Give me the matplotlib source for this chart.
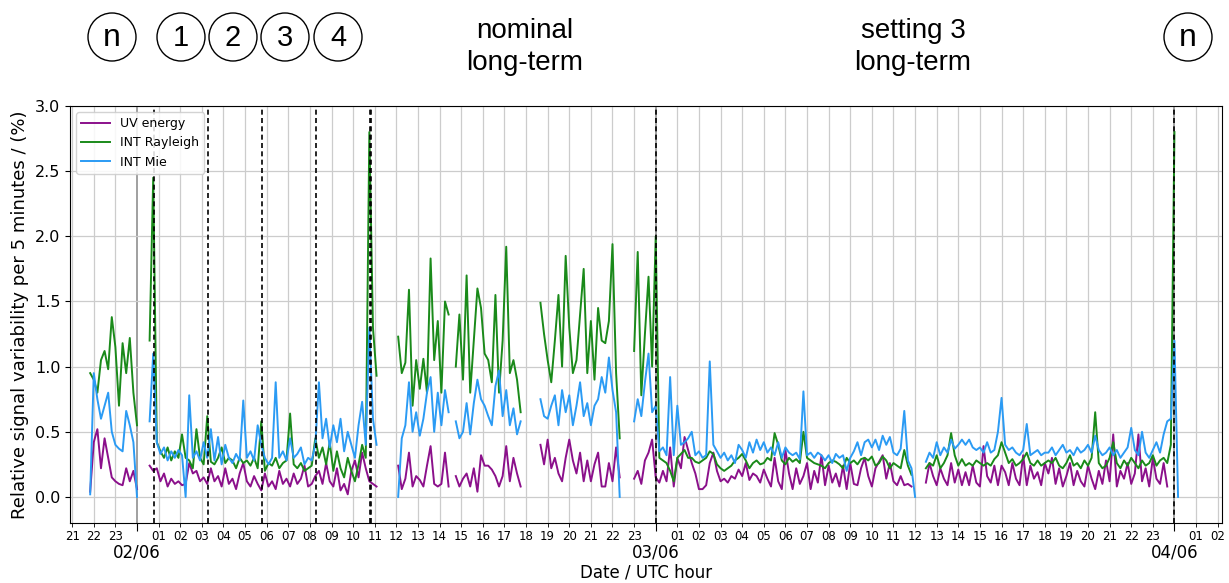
import numpy as np
import matplotlib
matplotlib.use("Agg")
import matplotlib.pyplot as plt
from matplotlib.patches import Ellipse

nan = np.nan
STEP = 1.0 / 6.0  # 10-minute samples, in hours

# start of each data segment, hours since 01/06 00:00 UTC
seg_start = [21 + 50 / 60, 24 + 35 / 60, 36 + 5 / 60, 42 + 40 / 60, 47.0, 60.5]

# ---------------- UV energy (purple) ----------------
uv_A = [0.04, 0.42, 0.52, 0.22, 0.45, 0.30, 0.15, 0.12, 0.10, 0.09, 0.22, 0.12, 0.20, 0.06]
uv_B = [0.24, 0.20, 0.22, 0.12, 0.18, 0.08, 0.14, 0.10, 0.12, 0.09,
        0.10, 0.26, 0.18, 0.20, 0.12, 0.15, 0.10, 0.22, 0.12, 0.16,
        0.08, 0.22, 0.10, 0.14, 0.06, 0.18, 0.26, 0.12, 0.08, 0.16,
        0.10, 0.05, 0.18, 0.08, 0.12, 0.06, 0.20, 0.10, 0.14, 0.08,
        0.18, 0.10, 0.14, 0.24, 0.08, 0.10, 0.16, 0.20, 0.10, 0.26,
        0.12, 0.08, 0.22, 0.05, 0.10, 0.02, 0.20, 0.28, 0.15, 0.34,
        0.22, 0.12, 0.10, 0.08]
uv_C = [0.24, 0.06, 0.14, 0.34, 0.08, 0.16, 0.13, 0.08, 0.24, 0.39,
        0.10, 0.08, 0.10, 0.34, 0.08, nan, 0.16, 0.08, 0.14, 0.18,
        0.08, 0.22, 0.04, 0.32, 0.24, 0.24, 0.21, 0.16, 0.08, 0.16,
        0.39, 0.12, 0.30, 0.18, 0.08]
uv_D = [0.40, 0.25, 0.44, 0.22, 0.30, 0.18, 0.12, 0.30, 0.44, 0.28,
        0.18, 0.34, 0.12, 0.28, 0.12, 0.25, 0.34, 0.08, 0.08, 0.26,
        0.12, 0.38, 0.15]
uv_E = [0.14, 0.20, 0.10, 0.28, 0.34, 0.44, 0.15,
        0.11, 0.20, 0.12, 0.38, 0.08, 0.30, 0.22, 0.46, 0.36, 0.26,
        0.18, 0.06, 0.06, 0.09, 0.26, 0.34, 0.20, 0.12, 0.14, 0.11,
        0.16, 0.14, 0.21, 0.16, 0.26, 0.13, 0.18, 0.16, 0.11, 0.21,
        0.14, 0.08, 0.30, 0.12, 0.06, 0.36, 0.18, 0.06, 0.22, 0.10,
        0.16, 0.26, 0.06, 0.20, 0.11, 0.32, 0.09, 0.24, 0.11, 0.18,
        0.08, 0.24, 0.06,
        0.26, 0.10, 0.09, 0.22, 0.30, 0.16, 0.08, 0.22, 0.27, 0.32,
        0.14, 0.26, 0.12, 0.09, 0.16, 0.09, 0.10, 0.08, nan]
uv_G = [0.11, 0.26, 0.16, 0.09, 0.22, 0.14, 0.09, 0.26, 0.11, 0.21,
        0.09, 0.19, 0.09, 0.24, 0.11, 0.08, 0.39, 0.16, 0.11, 0.24,
        0.09, 0.24, 0.19, 0.09, 0.26, 0.14, 0.09, 0.32, 0.09, 0.24,
        0.14, 0.19, 0.09, 0.26,
        0.18, 0.30, 0.10, 0.22, 0.08, 0.16, 0.26, 0.09, 0.20, 0.12,
        0.08, 0.24, 0.14, 0.06, 0.20, 0.10, 0.28, 0.12, 0.48, 0.08,
        0.20, 0.14, 0.26, 0.10, 0.18, 0.48, 0.12, 0.22, 0.08, 0.30,
        0.14, 0.10, 0.26, 0.08, nan, nan, nan]

# ---------------- INT Rayleigh (green) ----------------
ray_A = [0.95, 0.90, 0.80, 1.05, 1.12, 0.98, 1.38, 1.15, 0.70, 1.18, 0.95, 1.22, 0.80, 0.55]
ray_B = [1.20, 2.45, 0.42, 0.35, 0.30, 0.38, 0.28, 0.35, 0.30, 0.48,
         0.30, 0.28, 0.22, 0.52, 0.30, 0.25, 0.62, 0.27, 0.25, 0.30,
         0.38, 0.26, 0.30, 0.28, 0.22, 0.30, 0.26, 0.28, 0.24, 0.30,
         0.22, 0.58, 0.20, 0.26, 0.24, 0.30, 0.22, 0.26, 0.28, 0.64,
         0.25, 0.22, 0.26, 0.20, 0.22, 0.24, 0.45, 0.30, 0.38, 0.25,
         0.42, 0.20, 0.35, 0.22, 0.15, 0.30, 0.20, 0.12, 0.25, 0.40,
         0.30, 2.80, 1.30, 0.93]
ray_C = [1.23, 0.95, 1.03, 1.59, 0.70, 1.05, 0.83, 1.06, 0.80, 1.83,
         1.05, 1.35, 0.80, 1.50, 1.40, nan, 1.00, 1.40, 0.90, 1.70,
         0.80, 1.20, 1.60, 1.45, 1.10, 1.05, 0.88, 1.55, 0.80, 1.20,
         1.92, 0.95, 1.05, 0.90, 0.65]
ray_D = [1.49, 1.25, 1.05, 0.88, 1.20, 1.55, 1.00, 1.85, 1.30, 0.95,
         1.05, 1.40, 1.75, 0.95, 1.35, 0.90, 1.45, 1.20, 1.18, 1.35,
         1.94, 0.95, 0.45]
ray_E = [1.12, 1.88, 0.78, 1.25, 1.69, 1.00, 2.00,
         0.30, 0.28, 0.26, 0.20, 0.12, 0.30, 0.33, 0.36, 0.30, 0.30,
         0.27, 0.26, 0.28, 0.30, 0.35, 0.33, 0.25, 0.22, 0.20, 0.22,
         0.24, 0.28, 0.30, 0.33, 0.28, 0.22, 0.26, 0.28, 0.25, 0.26,
         0.30, 0.28, 0.49, 0.40, 0.28, 0.25, 0.30, 0.27, 0.29, 0.26,
         0.50, 0.30, 0.28, 0.26, 0.25, 0.24, 0.22, 0.26, 0.28, 0.27,
         0.25, 0.22, 0.30,
         0.26, 0.28, 0.25, 0.29, 0.30, 0.28, 0.31, 0.24, 0.26, 0.31,
         0.28, 0.22, 0.26, 0.24, 0.22, 0.36, 0.24, 0.17, nan]
ray_G = [0.22, 0.26, 0.24, 0.32, 0.22, 0.26, 0.32, 0.49, 0.32, 0.24,
         0.29, 0.24, 0.26, 0.24, 0.28, 0.26, 0.24, 0.26, 0.24, 0.29,
         0.32, 0.42, 0.34, 0.26, 0.29, 0.24, 0.26, 0.29, 0.34, 0.26,
         0.24, 0.28, 0.24, 0.26,
         0.28, 0.26, 0.30, 0.24, 0.22, 0.26, 0.32, 0.24, 0.26, 0.22,
         0.28, 0.24, 0.30, 0.65, 0.26, 0.22, 0.24, 0.30, 0.42, 0.26,
         0.22, 0.28, 0.24, 0.30, 0.26, 0.22, 0.28, 0.24, 0.26, 0.32,
         0.24, 0.28, 0.30, 0.26, 0.40, 2.80, nan]

# ---------------- INT Mie (blue) ----------------
mie_A = [0.02, 0.95, 0.75, 0.60, 0.70, 0.80, 0.50, 0.40, 0.37, 0.35, 0.66, 0.55, 0.42, 0.0]
mie_B = [0.58, 1.10, 0.42, 0.33, 0.38, 0.28, 0.35, 0.30, 0.36, 0.32,
         0.00, 0.78, 0.30, 0.35, 0.28, 0.42, 0.30, 0.52, 0.28, 0.46,
         0.25, 0.40, 0.30, 0.26, 0.33, 0.28, 0.74, 0.30, 0.35, 0.28,
         0.55, 0.40, 0.30, 0.25, 0.30, 0.88, 0.30, 0.35, 0.28, 0.45,
         0.30, 0.33, 0.38, 0.25, 0.30, 0.28, 0.40, 0.88, 0.45, 0.60,
         0.38, 0.55, 0.42, 0.60, 0.35, 0.50, 0.40, 0.30, 0.55, 0.73,
         0.40, 1.30, 0.60, 0.40]
mie_C = [0.00, 0.45, 0.55, 0.88, 0.50, 0.65, 0.47, 0.60, 0.80, 0.92,
         0.50, 0.80, 0.55, 0.82, 0.65, nan, 0.58, 0.45, 0.50, 0.72,
         0.48, 0.72, 0.90, 0.75, 0.70, 0.62, 0.55, 0.85, 0.97, 0.62,
         0.82, 0.55, 0.68, 0.48, 0.58]
mie_D = [0.75, 0.62, 0.60, 0.70, 0.78, 0.55, 0.82, 0.65, 0.78, 0.55,
         0.70, 0.88, 0.62, 0.72, 0.55, 0.70, 0.75, 0.92, 0.80, 1.07,
         0.82, 0.65, 0.00]
mie_E = [0.58, 0.75, 0.62, 0.88, 1.10, 0.65, 0.70,
         0.35, 0.38, 0.32, 0.92, 0.32, 0.70, 0.40, 0.42, 0.45, 0.50,
         0.32, 0.35, 0.30, 0.32, 1.04, 0.40, 0.35, 0.30, 0.34, 0.28,
         0.32, 0.26, 0.40, 0.36, 0.30, 0.42, 0.34, 0.44, 0.36, 0.42,
         0.34, 0.38, 0.32, 0.42, 0.30, 0.38, 0.34, 0.32, 0.34, 0.29,
         0.81, 0.32, 0.34, 0.30, 0.34, 0.32, 0.28, 0.32, 0.26, 0.33,
         0.30, 0.32, 0.20,
         0.30, 0.35, 0.42, 0.32, 0.42, 0.44, 0.38, 0.44, 0.36, 0.47,
         0.40, 0.46, 0.34, 0.32, 0.37, 0.66, 0.28, 0.22, 0.00]
mie_G = [0.27, 0.34, 0.30, 0.42, 0.32, 0.38, 0.34, 0.44, 0.37, 0.40,
         0.44, 0.40, 0.44, 0.38, 0.36, 0.38, 0.34, 0.42, 0.34, 0.36,
         0.50, 0.76, 0.40, 0.36, 0.38, 0.34, 0.32, 0.36, 0.56, 0.32,
         0.34, 0.36, 0.32, 0.34,
         0.34, 0.38, 0.32, 0.36, 0.40, 0.34, 0.36, 0.32, 0.38, 0.34,
         0.36, 0.40, 0.34, 0.47, 0.36, 0.32, 0.34, 0.38, 0.32, 0.36,
         0.30, 0.34, 0.38, 0.53, 0.36, 0.32, 0.50, 0.34, 0.30, 0.36,
         0.42, 0.34, 0.48, 0.58, 0.60, 1.20, 0.00]

# instrument setting changes (hours since 01/06 00:00)
change_times = [24.79, 27.29, 29.79, 32.29, 34.77, 34.83, 48.0, 72.0]

series = [("UV energy", "#8b108b", [uv_A, uv_B, uv_C, uv_D, uv_E, uv_G]),
          ("INT Rayleigh", "#1a8a1a", [ray_A, ray_B, ray_C, ray_D, ray_E, ray_G]),
          ("INT Mie", "#2b9bf4", [mie_A, mie_B, mie_C, mie_D, mie_E, mie_G])]

hour_ticks = [h for h in range(21, 75) if h % 24 != 0]
hour_labels = ["%02d" % (h % 24) for h in hour_ticks]
day_ticks = [24, 48, 72]
day_labels = ["02/06", "03/06", "04/06"]
ytick_vals = [0.0, 0.5, 1.0, 1.5, 2.0, 2.5, 3.0]

circle_marks = [(112, "n"), (181, "1"), (233, "2"), (285, "3"), (338, "4"), (1188, "n")]
top_texts = [(525, "nominal\nlong-term"), (913, "setting 3\nlong-term")]


def build(segs):
    ts, vs = [], []
    for s, vals in zip(seg_start, segs):
        v = np.array(vals, dtype=float)
        t = s + STEP * np.arange(len(v))
        ts += [t, [nan]]
        vs += [v, [nan]]
    return np.concatenate(ts), np.concatenate(vs)


# length sanity check across series
for i in range(len(seg_start)):
    lens = [len(s[2][i]) for s in series]
    assert len(set(lens)) == 1, (i, lens)

W, H = 1229, 583
fig = plt.figure(figsize=(W / 100, H / 100), dpi=100)
ax = fig.add_axes([70 / W, 1 - 523 / H, (1222 - 70) / W, (523 - 106) / H])

for name, col, segs in series:
    t, v = build(segs)
    ax.plot(t, v, color=col, lw=1.4, label=name, zorder=2)

for tc in change_times:
    ax.axvline(tc, color="black", lw=1.2, ls=(0, (3, 2)), zorder=3)

ax.set_xlim(20.9, 74.2)
ax.set_ylim(-0.2, 3.0)

ax.set_xticks(day_ticks, day_labels)
ax.set_xticks(hour_ticks, hour_labels, minor=True)
ax.tick_params(axis="x", which="minor", labelsize=8.5, length=3, pad=2)
ax.tick_params(axis="x", which="major", labelsize=12, length=6, pad=9)
ax.set_yticks(ytick_vals, ["%.1f" % v for v in ytick_vals])
ax.tick_params(axis="y", labelsize=11.5)

ax.grid(True, which="minor", axis="x", color="#cccccc", lw=0.9)
ax.grid(True, which="major", axis="x", color="#999999", lw=1.3)
ax.grid(True, which="major", axis="y", color="#cccccc", lw=0.9)
ax.set_axisbelow(True)

ax.set_ylabel("Relative signal variability per 5 minutes / (%)", fontsize=13)
ax.set_xlabel("Date / UTC hour", fontsize=12, labelpad=1)

ax.legend(loc="upper left", fontsize=9, handlelength=2.3, framealpha=0.85)

for x, lab in circle_marks:
    fig.add_artist(Ellipse((x / W, 1 - 37 / H), 48 / W, 48 / H, transform=fig.transFigure,
                           fill=False, ec="black", lw=1.0))
    fs = 23 if lab == "n" else 21
    fig.text(x / W, 1 - 38 / H, lab, ha="center", va="center", fontsize=fs,
             family="Liberation Sans")

for x, lab in top_texts:
    fig.text(x / W, 1 - 47 / H, lab, ha="center", va="center", fontsize=20,
             family="Liberation Sans", linespacing=1.25)

fig.savefig("out.png", dpi=100)
